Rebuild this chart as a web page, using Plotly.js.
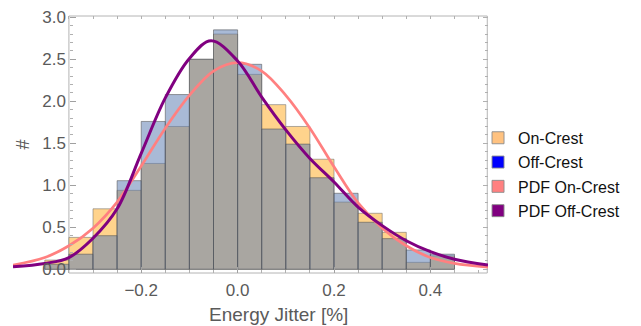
<!DOCTYPE html>
<html>
<head>
<meta charset="utf-8">
<script src="https://cdn.plot.ly/plotly-3.0.1.min.js"></script>
<style>html,body{margin:0;padding:0;background:#fff;}#chart{width:641px;height:326px;}</style>
</head>
<body>
<div id="chart"></div>
<script>
// Histogram bins (width 0.05) – centres
const binCenters = [-0.375, -0.325, -0.275, -0.225, -0.175, -0.125, -0.075, -0.025,
                    0.025, 0.075, 0.125, 0.175, 0.225, 0.275, 0.325, 0.375, 0.425];
const onCrest  = [0.11, 0.38, 0.72, 0.94, 1.26, 1.70, 2.50, 2.80,
                  2.32, 1.96, 1.70, 1.31, 0.80, 0.667, 0.44, 0.083, 0.16];
const offCrest = [0.06, 0.18, 0.40, 1.055, 1.76, 2.08, 2.50, 2.85,
                  2.44, 1.67, 1.49, 1.09, 0.905, 0.56, 0.365, 0.23, 0.18];

// PDF curves
const pdfOnX  = [-0.466, -0.40, -0.35, -0.30, -0.25, -0.20, -0.15, -0.10, -0.05, 0.00,
                 0.05, 0.10, 0.15, 0.20, 0.25, 0.30, 0.35, 0.40, 0.45, 0.5195];
const pdfOnY  = [0.05, 0.14, 0.28, 0.49, 0.80, 1.23, 1.68, 2.07, 2.36, 2.46,
                 2.36, 2.07, 1.68, 1.22, 0.79, 0.49, 0.28, 0.14, 0.07, 0.025];
const pdfOffX = [-0.466, -0.40, -0.35, -0.30, -0.25, -0.20, -0.15, -0.10, -0.055, 0.00,
                 0.05, 0.10, 0.15, 0.20, 0.25, 0.30, 0.35, 0.40, 0.45, 0.5195];
const pdfOffY = [0.03, 0.07, 0.14, 0.37, 0.72, 1.38, 2.04, 2.51, 2.72, 2.48,
                 2.05, 1.66, 1.32, 1.04, 0.74, 0.52, 0.34, 0.21, 0.12, 0.05];

const binWidth = 0.05;
const xTicks = [-0.2, 0.0, 0.2, 0.4];
const xMinorTicks = [-0.35, -0.3, -0.25, -0.15, -0.1, -0.05, 0.05, 0.1, 0.15, 0.25, 0.3, 0.35, 0.45, 0.5];
const yTicks = [0, 0.5, 1.0, 1.5, 2.0, 2.5, 3.0];

const legendNames = ['On-Crest', 'Off-Crest', 'PDF On-Crest', 'PDF Off-Crest'];
const legendColors = ['rgb(255,194,128)', 'rgb(0,0,255)', 'rgb(255,128,128)', 'rgb(128,0,128)'];
const xTitle = 'Energy Jitter [%]';
const yTitle = '#';

const xRange = [-0.466, 0.5195];
const yRange = [-0.044, 3.015];
const frameLeft = -0.35;
const toPaperX = v => (v - xRange[0]) / (xRange[1] - xRange[0]);

const traces = [
  {type:'bar', x: binCenters, y: onCrest, width: binWidth, showlegend:false,
   marker:{color:'rgb(255,211,140)', line:{color:'rgba(110,110,110,0.55)', width:1}}, hoverinfo:'skip'},
  {type:'bar', x: binCenters, y: offCrest, width: binWidth, showlegend:false,
   marker:{color:'rgba(96,127,179,0.54)', line:{color:'rgba(80,80,80,0.55)', width:1}}, hoverinfo:'skip'},
  {type:'scatter', mode:'lines', x: pdfOnX, y: pdfOnY, showlegend:false,
   line:{color:'rgb(255,128,128)', width:2.7, shape:'spline', smoothing:1}, hoverinfo:'skip'},
  {type:'scatter', mode:'lines', x: pdfOffX, y: pdfOffY, showlegend:false,
   line:{color:'rgb(128,0,128)', width:3, shape:'spline', smoothing:1}, hoverinfo:'skip'},
  // mirror axes carrier
  {type:'scatter', mode:'lines', x:[null], y:[null], xaxis:'x2', yaxis:'y2', showlegend:false, hoverinfo:'skip'}
];
legendNames.forEach((n, i) => {
  traces.push({type:'bar', x:[null], y:[null], name:n, legendgroup:'g'+i,
    marker:{color: legendColors[i], line:{color:'rgba(140,140,140,0.9)', width:1}}, hoverinfo:'skip'});
});

const fam = 'Liberation Sans, Arial, sans-serif';
const tickFont = {family:fam, size:17, color:'#5a5a5a'};

const layout = {
  width:641, height:326,
  margin:{l:13, r:153, t:16, b:53},
  paper_bgcolor:'#fff', plot_bgcolor:'#fff',
  barmode:'overlay', bargap:0,
  hovermode:false,
  xaxis:{range:xRange, showgrid:false, zeroline:false, showline:false,
    tickmode:'array', tickvals:xTicks, tickformat:'.1f',
    ticks:'inside', ticklen:6, tickcolor:'#a0a0a0', tickwidth:1, ticklabelstandoff:5,
    minor:{tickmode:'array', tickvals:xMinorTicks, ticks:'inside', ticklen:3, tickcolor:'#b0b0b0'},
    tickfont:tickFont},
  yaxis:{range:yRange, showgrid:false, zeroline:false, showline:false,
    anchor:'free', position:toPaperX(frameLeft),
    tickmode:'array', tickvals:yTicks, tickformat:'.1f',
    ticks:'inside', ticklen:6, tickcolor:'#a0a0a0', tickwidth:1, ticklabelstandoff:3,
    minor:{dtick:0.1, ticks:'inside', ticklen:3, tickcolor:'#b0b0b0'},
    tickfont:tickFont,
    title:{text:yTitle, font:{family:fam, size:18, color:'#5a5a5a'}, standoff:6}},
  xaxis2:{overlaying:'x', matches:'x', side:'top', anchor:'y2', showgrid:false, zeroline:false, showline:false,
    showticklabels:false, tickmode:'array', tickvals:xTicks, ticks:'inside', ticklen:3, tickcolor:'#b0b0b0',
    minor:{tickmode:'array', tickvals:xMinorTicks, ticks:'inside', ticklen:3, tickcolor:'#b0b0b0'}},
  yaxis2:{overlaying:'y', matches:'y', side:'right', anchor:'x2', showgrid:false, zeroline:false, showline:false,
    showticklabels:false, tickmode:'array', tickvals:yTicks, ticks:'inside', ticklen:5, tickcolor:'#b0b0b0',
    minor:{dtick:0.1, ticks:'inside', ticklen:3, tickcolor:'#b0b0b0'}},
  shapes:[{type:'rect', xref:'x', yref:'paper', x0:frameLeft, x1:xRange[1]-0.0015, y0:0, y1:1,
    line:{color:'#b4b4b4', width:1}, layer:'below'}],
  annotations:[{text:xTitle, xref:'paper', yref:'paper',
    x:toPaperX((frameLeft + xRange[1]) / 2), y:0, xanchor:'center', yanchor:'middle', yshift:-41,
    showarrow:false, font:{family:fam, size:19, color:'#5a5a5a'}}],
  showlegend:true,
  legend:{x:0.979, xanchor:'left', y:0.592, yanchor:'top', traceorder:'grouped', tracegroupgap:0.5,
    bgcolor:'rgba(0,0,0,0)', borderwidth:0,
    font:{family:fam, size:16, color:'#111'}}
};

Plotly.newPlot('chart', traces, layout, {staticPlot:true, displayModeBar:false});
</script>
</body>
</html>
